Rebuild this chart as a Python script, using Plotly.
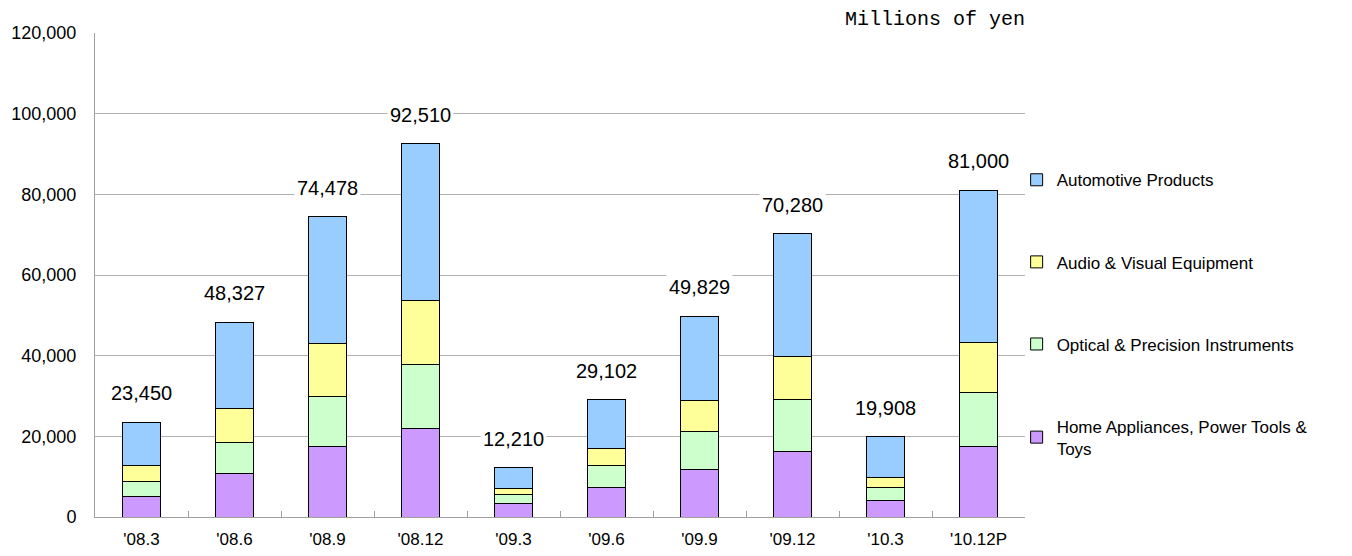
import plotly.graph_objects as go

categories = ["'08.3", "'08.6", "'08.9", "'08.12", "'09.3", "'09.6", "'09.9", "'09.12", "'10.3", "'10.12P"]
home = [5130, 10900, 17400, 22000, 3400, 7270, 11900, 16200, 4050, 17400]
optical = [3720, 7500, 12500, 15900, 2100, 5380, 9300, 13000, 3150, 13350]
audio = [3950, 8500, 13200, 15800, 1600, 4250, 7700, 10600, 2700, 12550]
auto = [10650, 21427, 31378, 38810, 5110, 12202, 20929, 30480, 10008, 37700]
totals = [23450, 48327, 74478, 92510, 12210, 29102, 49829, 70280, 19908, 81000]

series = [
    ("Home Appliances, Power Tools &<br>Toys", home, "#CC99FF", 4),
    ("Optical & Precision Instruments", optical, "#CCFFCC", 3),
    ("Audio & Visual Equipment", audio, "#FFFF99", 2),
    ("Automotive Products", auto, "#99CCFF", 1),
]

font = "Liberation Sans"
fig = go.Figure()
for name, vals, col, rank in series:
    fig.add_trace(go.Bar(
        x=categories, y=vals, name=name, legendgroup=str(rank), legendrank=rank,
        marker=dict(color=col, line=dict(color="black", width=1)),
        hoverinfo="skip",
    ))

for c, t in zip(categories, totals):
    fig.add_annotation(x=c, y=t, text=f"{t:,}", showarrow=False, yshift=29,
                       yanchor="middle", bgcolor="white", borderpad=2,
                       font=dict(family=font, size=20, color="black"))

fig.add_annotation(xref="paper", yref="paper", x=1.002, y=1, xanchor="right", yanchor="bottom",
                   yshift=0, text="Millions of yen", showarrow=False,
                   font=dict(family="Liberation Mono", size=20, color="black"))

fig.update_layout(
    width=1336, height=540,
    barmode="stack", bargap=0.59,
    plot_bgcolor="white", paper_bgcolor="white",
    margin=dict(l=87, r=319, t=25, b=31, autoexpand=False),
    font=dict(family=font, size=17, color="black"),
    showlegend=True,
    legend=dict(x=0.991, xanchor="left", y=0.733, yanchor="top",
                traceorder="grouped", tracegroupgap=57,
                font=dict(family=font, size=17, color="black"),
                bgcolor="rgba(0,0,0,0)"),
    xaxis=dict(showline=True, linecolor="#A0A0A0", linewidth=1, ticks="inside",
               tickson="boundaries", ticklen=6, tickcolor="#A0A0A0",
               ticklabelstandoff=7, automargin=False,
               tickfont=dict(family=font, size=17), showgrid=False),
    yaxis=dict(range=[0, 120000], dtick=20000, tickformat=",", showgrid=True,
               gridcolor="#B0B0B0", gridwidth=1, showline=True, linecolor="#A0A0A0",
               linewidth=1, zeroline=False, ticks="", ticklabelstandoff=14,
               automargin=False,
               tickfont=dict(family=font, size=18)),
)

fig.write_html("out.html")
